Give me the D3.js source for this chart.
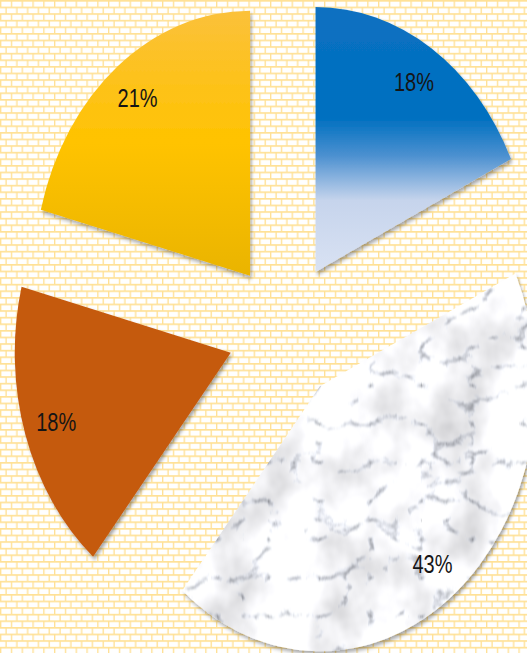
<!DOCTYPE html>
<html>
<head>
<meta charset="utf-8">
<script src="https://cdn.jsdelivr.net/npm/d3@7/dist/d3.min.js"></script>
<style>
  html, body { margin: 0; padding: 0; background: #fff; }
  svg { display: block; }
</style>
</head>
<body>
<div id="chart"></div>
<script>
// Share of each category, clockwise from 12 o'clock
const categories = ["Category 1", "Category 2", "Category 3", "Category 4"];
const values = [18, 43, 18, 21];
const fills = ["url(#gradBlue)", "url(#marbleFill)", "#C55A11", "url(#gradGold)"];

const W = 527, H = 653;
const cx = 285, cy = 331;      // pie centre
const R = 265;                 // radius (vertical)
const sx = 0.815;              // horizontal squash of the plot
const explode = 70;            // distance each slice is pulled out

const svg = d3.select("#chart").append("svg")
  .attr("width", W).attr("height", H);

const defs = svg.append("defs");

// brick pattern background
const brick = defs.append("pattern")
  .attr("id", "brick").attr("patternUnits", "userSpaceOnUse")
  .attr("width", 10.8).attr("height", 13.2);
brick.append("rect").attr("width", 10.8).attr("height", 13.2).attr("fill", "#FFE196");
[[1.35, 1.65, 9.45], [6.75, 8.25, 4.05], [0, 8.25, 5.4]].forEach(([x, y, w]) =>
  brick.append("rect").attr("x", x).attr("y", y).attr("width", w).attr("height", 4.95).attr("fill", "#FFFFFF"));

const soft = defs.append("filter").attr("id", "soft");
soft.append("feGaussianBlur").attr("stdDeviation", 0.45);

// blue gradient
const gb = defs.append("linearGradient").attr("id", "gradBlue")
  .attr("x1", 0).attr("y1", 0).attr("x2", 0).attr("y2", 1);
[[0, "#0A70C1"], [0.42, "#0070C0"], [0.56, "#4B90D0"], [0.73, "#C6D4EC"], [1, "#D9E2F3"]]
  .forEach(([o, c]) => gb.append("stop").attr("offset", o).attr("stop-color", c));

// gold gradient
const gg = defs.append("linearGradient").attr("id", "gradGold")
  .attr("x1", 0).attr("y1", 0).attr("x2", 0).attr("y2", 1);
[[0, "#FBC13A"], [0.5, "#FFC300"], [1, "#EAB400"]]
  .forEach(([o, c]) => gg.append("stop").attr("offset", o).attr("stop-color", c));

// marble texture generated from turbulence
const mf = defs.append("filter").attr("id", "marble")
  .attr("x", 0).attr("y", 0).attr("width", 1).attr("height", 1)
  .attr("color-interpolation-filters", "sRGB");
mf.append("feTurbulence").attr("type", "turbulence")
  .attr("baseFrequency", "0.016 0.026").attr("numOctaves", 5).attr("seed", 11).attr("result", "veins");
mf.append("feColorMatrix").attr("in", "veins").attr("type", "matrix")
  .attr("values", "2.1 0 0 0 0.6  2.1 0 0 0 0.61  2.1 0 0 0 0.63  0 0 0 0 1").attr("result", "grey");
mf.append("feTurbulence").attr("type", "fractalNoise")
  .attr("baseFrequency", "0.014").attr("numOctaves", 4).attr("seed", 4).attr("result", "cloud");
mf.append("feColorMatrix").attr("in", "cloud").attr("type", "matrix")
  .attr("values", "0.45 0 0 0 0.72  0.45 0 0 0 0.72  0.45 0 0 0 0.73  0 0 0 0 1").attr("result", "cloudGrey");
mf.append("feComposite").attr("in", "grey").attr("in2", "cloudGrey")
  .attr("operator", "arithmetic").attr("k1", 1.04).attr("k2", 0).attr("k3", 0).attr("k4", 0).attr("result", "mix");
mf.append("feGaussianBlur").attr("in", "mix").attr("stdDeviation", 0.8).attr("result", "mixSoft");
mf.append("feComposite").attr("in", "mixSoft").attr("in2", "SourceGraphic").attr("operator", "in");

// drop shadow behind slices
const sh = defs.append("filter").attr("id", "shadow")
  .attr("x", "-10%").attr("y", "-10%").attr("width", "125%").attr("height", "125%");
sh.append("feDropShadow").attr("dx", 2).attr("dy", 3).attr("stdDeviation", 2)
  .attr("flood-color", "#000").attr("flood-opacity", 0.35);

svg.append("rect").attr("width", W).attr("height", H)
  .attr("fill", "url(#brick)").attr("filter", "url(#soft)");

const color = d3.scaleOrdinal().domain(categories).range(fills);

const pie = d3.pie().sort(null).value(d => d.value);
const arcs = pie(categories.map((c, i) => ({ name: c, value: values[i] })));
const total = d3.sum(values);

const arc = d3.arc().innerRadius(0).outerRadius(R);
const labelArc = d3.arc().innerRadius(R * 0.85).outerRadius(R * 0.85);

function offset(d) {
  const a = (d.startAngle + d.endAngle) / 2;
  return [explode * Math.sin(a), -explode * Math.cos(a)];
}

const plot = svg.append("g")
  .attr("transform", `translate(${cx},${cy}) scale(${sx},1)`);

const slice = plot.selectAll("g.slice").data(arcs).join("g")
  .attr("class", "slice")
  .attr("transform", d => `translate(${offset(d)[0]},${offset(d)[1]})`)
  .attr("filter", "url(#shadow)");

slice.each(function (d) {
  const g = d3.select(this);
  if (d.data.name === categories[1]) {
    g.append("path").attr("d", arc(d)).attr("fill", "#E9EAEC")
      .attr("filter", "url(#marble)");
  } else {
    g.append("path").attr("d", arc(d)).attr("fill", color(d.data.name));
  }
});

// percentage labels
svg.selectAll("text.pct").data(arcs).join("text")
  .attr("class", "pct")
  .attr("transform", d => {
    const [ox, oy] = offset(d);
    const [lx, ly] = labelArc.centroid(d);
    return `translate(${cx + sx * (ox + lx)},${cy + oy + ly}) scale(0.8,1)`;
  })
  .attr("text-anchor", "middle")
  .attr("dy", "0.36em")
  .attr("font-family", "'Liberation Sans', Arial, sans-serif")
  .attr("font-size", 25)
  .attr("fill", "#151515")
  .text(d => Math.round(d.data.value / total * 100) + "%");
</script>
</body>
</html>
